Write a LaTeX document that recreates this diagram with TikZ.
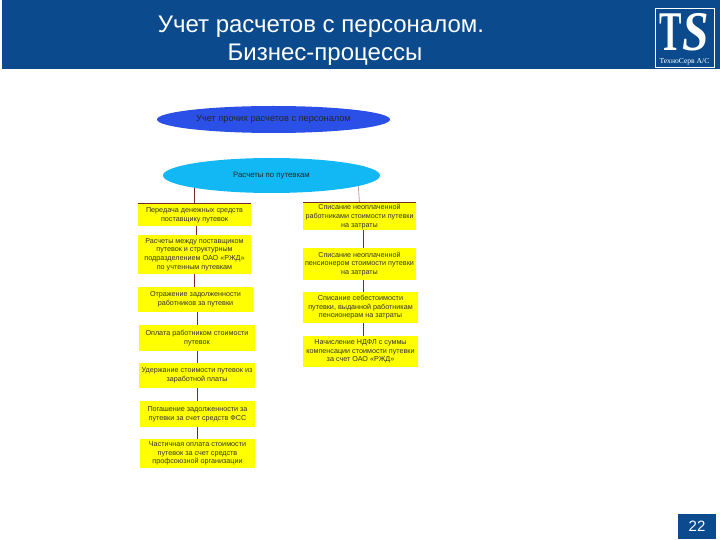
\documentclass[tikz,border=0pt]{standalone}
\usepackage{fontspec}
\setmainfont{Liberation Sans}
\newfontfamily\logofont{Liberation Serif}
\definecolor{headblue}{HTML}{0B4A8C}
\definecolor{ovalblue}{HTML}{2B50E8}
\definecolor{ovalcyan}{HTML}{12B8F4}
\definecolor{boxyellow}{HTML}{FFFF00}
\definecolor{linkred}{HTML}{7A2A20}
\tikzset{mbox/.style = {shape = rectangle,
                                    fill = boxyellow,
                                    inner sep=0pt,
                                    align=center,
                                    text=black!80,
                                    font=\fontsize{7.2}{8.6}\selectfont},
         moval/.style = {shape = ellipse,
                                    inner sep=0pt,
                                    text=black!85,
                                    font=\fontsize{9.2}{10}\selectfont},
         mlink/.style = {color = linkred,
                                    line width=0.8pt}}
\usetikzlibrary{shapes.geometric}

\begin{document}
\begin{tikzpicture}[x=1pt,y=-1pt]
		\useasboundingbox (0,0) rectangle (720,540);
		% header
		\node[fill=headblue, minimum width=718pt, minimum height=69pt, inner sep=0pt] (head) at (361,34.5) {};
		\node[text=white, align=center, font=\fontsize{24}{28}\selectfont] (title) at (321,40.5) {Учет расчетов с персоналом.\\\hspace*{8pt}Бизнес-процессы};
		% logo
		\node[draw=white, line width=0.7pt, minimum width=59pt, minimum height=59pt, inner sep=0pt] (logo) at (684.5,37.5) {};
		\node[text=white, inner sep=0pt, xscale=0.6, font=\logofont\bfseries\fontsize{56}{56}\selectfont] (logot) at (671,32) {T};
		\node[text=white, inner sep=0pt, xscale=0.85, font=\logofont\bfseries\itshape\fontsize{56}{56}\selectfont] (logos) at (696,32) {S};
		\node[text=white, inner sep=0pt, font=\logofont\fontsize{7.6}{8}\selectfont] (logotext) at (684.5,61.5) {ТехноСерв А/С};
		% page number
		\node[fill=headblue, text=white, minimum width=38pt, minimum height=25pt, inner sep=0pt, font=\fontsize{15}{15}\selectfont] (page) at (697,526.5) {22};
		% ovals
		\node[moval, fill=ovalblue, minimum width=233pt, minimum height=27pt] (main) at (273.5,119.5) {Учет прочих расчетов с персоналом};
		\node[moval, fill=ovalcyan, minimum width=217pt, minimum height=35pt, font=\fontsize{7.8}{10}\selectfont] (pay) at (271.5,175.5) {Расчеты по путевкам};
		% left column
		\node[mbox, minimum width=113pt, minimum height=22pt] (l1) at (194.5,215) {Передача денежных средств\\поставщику путевок};
		\node[mbox, minimum width=113pt, minimum height=39pt] (l2) at (194.5,254.5) {Расчеты между поставщиком\\путевок и структурным\\подразделением ОАО «РЖД»\\по учтенным путевкам};
		\node[mbox, minimum width=115pt, minimum height=25pt] (l3) at (195.5,299.5) {Отражение задолженности\\работников за путевки};
		\node[mbox, minimum width=116pt, minimum height=26pt] (l4) at (197,338) {Оплата работником стоимости\\путевок};
		\node[mbox, minimum width=116pt, minimum height=25pt] (l5) at (197,375.5) {Удержание стоимости путевок из\\заработной платы};
		\node[mbox, minimum width=115pt, minimum height=26pt] (l6) at (197.5,414) {Погашение задолженности за\\путевки за счет средств ФСС};
		\node[mbox, minimum width=115pt, minimum height=29pt] (l7) at (197.5,453.5) {Частичная оплата стоимости\\путевок за счет средств\\профсоюзной организации};
		% right column
		\node[mbox, minimum width=113pt, minimum height=27pt] (r1) at (359.5,216.5) {Списание неоплаченной\\работниками стоимости путевки\\на затраты};
		\node[mbox, minimum width=113pt, minimum height=32pt] (r2) at (359.5,264) {Списание неоплаченной\\пенсионером стоимости путевки\\на затраты};
		\node[mbox, minimum width=115pt, minimum height=31pt] (r3) at (360.5,307.5) {Списание себестоимости\\путевки, выданной работникам\\пенсионерам на затраты};
		\node[mbox, minimum width=115pt, minimum height=31pt] (r4) at (360.5,351.5) {Начисление НДФЛ с суммы\\компенсации стоимости путевки\\за счет ОАО «РЖД»};
		% links
		\draw[mlink] (pay.south west) -- (l1.north);
		\draw[mlink, color=linkred!45] (pay.-7) -- (r1.north);
		\draw[mlink] (l1.north west) -- (l1.north east);
		\draw[mlink] (r1.north west) -- (r1.north east);
		\path[mlink] ([xshift=1.5pt]l1.south) edge ([xshift=1.5pt]l1.south |- l2.north)
			(l2.south) edge (l2.south |- l3.north)
			([xshift=1.5pt]l3.south) edge ([xshift=1.5pt]l3.south |- l4.north)
			(l4.south) edge (l4.south |- l5.north)
			(l5.south) edge (l5.south |- l6.north)
			(l6.south) edge (l6.south |- l7.north)
			([xshift=3.5pt]r1.south) edge ([xshift=3.5pt]r1.south |- r2.north)
			([xshift=3.5pt]r2.south) edge ([xshift=3.5pt]r2.south |- r3.north)
			([xshift=2.5pt]r3.south) edge ([xshift=2.5pt]r3.south |- r4.north);
	\end{tikzpicture}
\end{document}
